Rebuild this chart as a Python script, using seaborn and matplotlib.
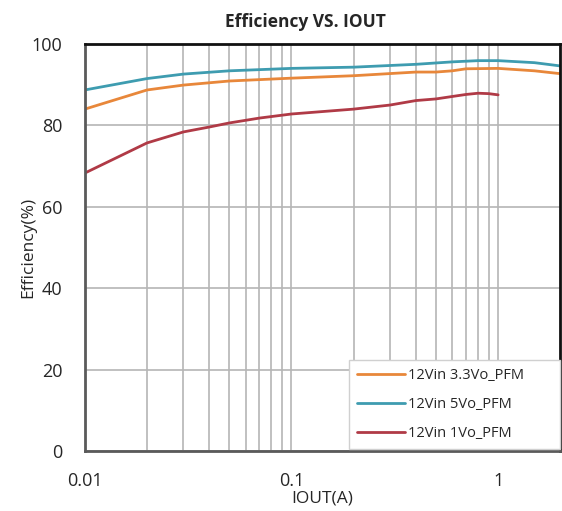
import pandas as pd
import numpy as np
import seaborn as sns
import matplotlib.pyplot as plt
from matplotlib.ticker import FixedLocator, NullFormatter

## Data
iout_33 = [0.01, 0.02, 0.03, 0.05, 0.1, 0.2, 0.4, 0.5, 0.6, 0.7, 1.0, 1.5, 2.0]
eff_33 = [84.0, 88.7, 89.9, 90.9, 91.6, 92.2, 93.1, 93.1, 93.4, 93.9, 94.0, 93.4, 92.7]

iout_5 = [0.01, 0.02, 0.03, 0.05, 0.1, 0.2, 0.4, 0.6, 0.8, 1.0, 1.5, 2.0]
eff_5 = [88.7, 91.5, 92.6, 93.4, 94.0, 94.3, 95.0, 95.6, 95.9, 95.9, 95.4, 94.6]

iout_1 = [0.01, 0.02, 0.03, 0.04, 0.05, 0.07, 0.1, 0.2, 0.3, 0.4, 0.5, 0.6, 0.7, 0.8, 0.9, 1.0]
eff_1 = [68.3, 75.7, 78.4, 79.6, 80.6, 81.8, 82.8, 84.0, 85.0, 86.1, 86.5, 87.1, 87.6, 87.9, 87.8, 87.5]

labels = ["12Vin 3.3Vo_PFM", "12Vin 5Vo_PFM", "12Vin 1Vo_PFM"]
colors = ["#E8873A", "#3E9CB0", "#B03A46"]

df = pd.concat([
    pd.DataFrame({"iout": iout_33, "eff": eff_33, "curve": labels[0]}),
    pd.DataFrame({"iout": iout_5, "eff": eff_5, "curve": labels[1]}),
    pd.DataFrame({"iout": iout_1, "eff": eff_1, "curve": labels[2]}),
])

sns.set_style("white")
plt.rcParams['font.family'] = ['Open Sans', 'DejaVu Sans']

fig = plt.figure(figsize=(5.62, 5.11), dpi=100)
ax = fig.add_axes([0.151, 0.117, 0.846, 0.797])

sns.lineplot(data=df, x="iout", y="eff", hue="curve", hue_order=labels,
             palette=colors, linewidth=2.0, sort=True, estimator=None, ax=ax)

ax.set_xscale("log")
ax.set_xlim(0.01, 2)
ax.set_ylim(0, 100)
ax.set_yticks([0, 20, 40, 60, 80, 100])
ax.set_xticks([0.01, 0.1, 1])
ax.set_xticklabels(["0.01", "0.1", "1"])
minors = [m * d for d in (0.01, 0.1) for m in range(2, 10)]
ax.xaxis.set_minor_locator(FixedLocator(minors))
ax.xaxis.set_minor_formatter(NullFormatter())

ax.grid(True, which="both", axis="x", color="#b5b5b5", linewidth=1.2)
ax.grid(True, which="major", axis="y", color="#b5b5b5", linewidth=1.2)
ax.tick_params(axis="x", which="both", length=0, labelsize=13, pad=15)
ax.tick_params(axis="y", length=0, labelsize=13, pad=16)

for s in ["left", "bottom"]:
    ax.spines[s].set_color("#5a5a5a")
    ax.spines[s].set_linewidth(2)
for s in ["top", "right"]:
    ax.spines[s].set_color("#111111")
    ax.spines[s].set_linewidth(2)

ax.set_title("Efficiency VS. IOUT", fontsize=12.5, fontweight="bold", pad=12, x=0.463)
ax.set_xlabel("IOUT(A)", fontsize=12.5, labelpad=0)
ax.set_ylabel("Efficiency(%)", fontsize=12.5, labelpad=-3)

leg = ax.legend(loc="lower left", bbox_to_anchor=(0.556, 0.005, 0.444, 0.2),
                mode="expand", fontsize=10.5, frameon=True, fancybox=False,
                handlelength=3.3, labelspacing=0.95, borderpad=0.55,
                borderaxespad=0, handletextpad=0.2)
leg.get_frame().set_edgecolor("#d0d0d0")
leg.get_frame().set_alpha(1)

fig.savefig("out.png", dpi=100)
